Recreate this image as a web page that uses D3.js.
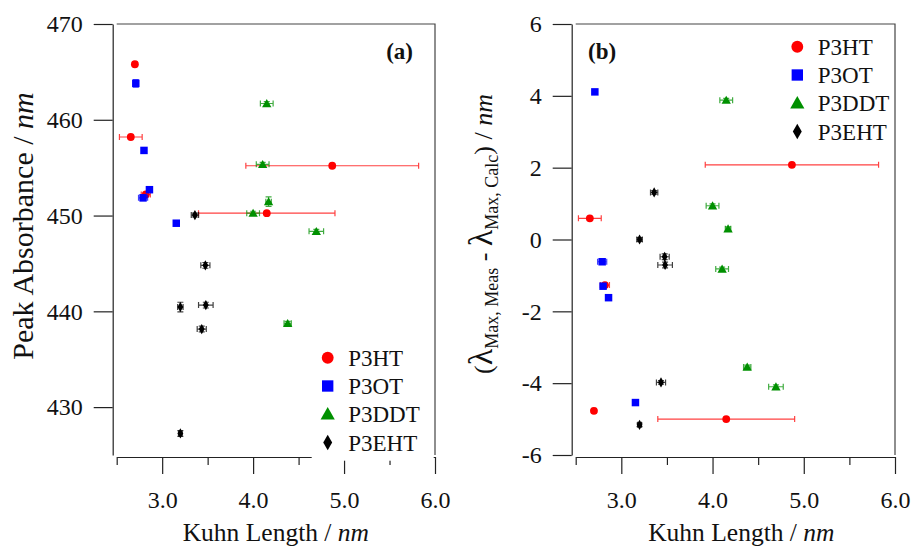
<!DOCTYPE html>
<html>
<head>
<meta charset="utf-8">
<script src="https://cdn.jsdelivr.net/npm/d3@7"></script>
<style>
  body { margin: 0; background: #fff; }
</style>
</head>
<body>
<div id="chart"></div>
<script>
// data
const polymers = ["P3HT", "P3OT", "P3DDT", "P3EHT"];

const kuhnP3HT = [2.70, 2.655, 4.87, 4.15, 2.82];
const kuhnErrP3HT = [0.02, 0.125, 0.95, 0.75, 0.05];
const peakP3HT = [465.8, 458.2, 455.2, 450.25, 452.2];
const peakErrP3HT = [0.2, 0.1, 0.1, 0.1, 0.2];
const deltaP3HT = [-4.77, 0.59, 2.08, -5.0, -1.27];
const deltaErrP3HT = [0.05, 0.05, 0.05, 0.05, 0.05];

const kuhnP3OT = [2.71, 2.80, 2.86, 2.79, 3.155];
const kuhnErrP3OT = [0.02, 0.02, 0.02, 0.05, 0.02];
const peakP3OT = [463.8, 456.8, 452.7, 451.85, 449.2];
const peakErrP3OT = [0.4, 0.1, 0.1, 0.3, 0.1];
const deltaP3OT = [4.11, -1.30, -1.62, -0.62, -4.54];
const deltaErrP3OT = [0.05, 0.05, 0.05, 0.05, 0.05];

const kuhnP3DDT = [4.15, 4.105, 4.17, 4.00, 4.695, 4.38];
const kuhnErrP3DDT = [0.07, 0.07, 0.03, 0.07, 0.08, 0.04];
const peakP3DDT = [461.7, 455.35, 451.45, 450.25, 448.35, 438.75];
const peakErrP3DDT = [0.2, 0.2, 0.5, 0.2, 0.2, 0.2];
const deltaP3DDT = [3.88, -0.82, 0.30, 0.94, -4.10, -3.55];
const deltaErrP3DDT = [0.05, 0.05, 0.05, 0.05, 0.05, 0.05];

const kuhnP3EHT = [3.36, 3.475, 3.20, 3.48, 3.435, 3.20];
const kuhnErrP3EHT = [0.04, 0.05, 0.03, 0.08, 0.05, 0.02];
const peakP3EHT = [450.05, 444.8, 440.45, 440.65, 438.15, 427.25];
const peakErrP3EHT = [0.2, 0.3, 0.5, 0.3, 0.3, 0.3];
const deltaP3EHT = [1.31, -0.48, 0.0, -0.71, -3.98, -5.16];
const deltaErrP3EHT = [0.05, 0.08, 0.05, 0.08, 0.05, 0.05];

const xTicks = [3.0, 4.0, 5.0, 6.0];
const xTickLabels = ["3.0", "4.0", "5.0", "6.0"];
const xMinorTicks = [2.5, 3.5, 4.5, 5.5];
const yTicksA = [430, 440, 450, 460, 470];
const yTickLabelsA = ["430", "440", "450", "460", "470"];
const yTicksB = [-6, -4, -2, 0, 2, 4, 6];
const yTickLabelsB = ["-6", "-4", "-2", "0", "2", "4", "6"];

const FONT = "Liberation Serif";
const colors = {P3HT: "#ff0000", P3OT: "#0000ff", P3DDT: "#009000", P3EHT: "#000000"};
const shapes = {P3HT: d3.symbolCircle, P3OT: d3.symbolSquare, P3DDT: d3.symbolTriangle, P3EHT: d3.symbolDiamond};
const sizes = {P3HT: 48, P3OT: 56, P3DDT: 38, P3EHT: 30};

function rows(kuhn, kuhnErr, peak, peakErr, delta, deltaErr) {
    return kuhn.map((k, i) => ({k: k, ke: kuhnErr[i], a: peak[i], ae: peakErr[i], b: delta[i], be: deltaErr[i]}));
}
const series = {
    P3HT: rows(kuhnP3HT, kuhnErrP3HT, peakP3HT, peakErrP3HT, deltaP3HT, deltaErrP3HT),
    P3OT: rows(kuhnP3OT, kuhnErrP3OT, peakP3OT, peakErrP3OT, deltaP3OT, deltaErrP3OT),
    P3DDT: rows(kuhnP3DDT, kuhnErrP3DDT, peakP3DDT, peakErrP3DDT, deltaP3DDT, deltaErrP3DDT),
    P3EHT: rows(kuhnP3EHT, kuhnErrP3EHT, peakP3EHT, peakErrP3EHT, deltaP3EHT, deltaErrP3EHT)
};

const svg = d3.select("#chart")
    .append("svg")
    .attr("width", 914)
    .attr("height", 548)
    .style("font-family", FONT);

function label(sel, size) {
    return sel.style("font-family", FONT).style("font-size", size + "px").attr("fill", "#111");
}

function drawPanel(p) {
    const g = svg.append("g")
        .attr("transform", `translate(${p.left},${p.top})`);

    const x = d3.scaleLinear().domain([2.5, 6.0]).range([0, p.w]);
    const y = d3.scaleLinear().domain(p.yDomain).range([p.h, 0]);

    // frame (top + right)
    g.append("path")
        .attr("d", `M0,0H${p.w}V${p.h}`)
        .attr("fill", "none")
        .attr("stroke", "#444")
        .attr("stroke-width", 1.2);

    // left axis, pulled off the frame a little
    const yAxis = g.append("g")
        .attr("transform", "translate(-4,0)")
        .call(d3.axisLeft(y)
            .tickValues(p.yTicks)
            .tickFormat((d, i) => p.yLabels[i])
            .tickSize(19)
            .tickSizeOuter(0)
            .tickPadding(11));

    // bottom axis
    const xAxis = g.append("g")
        .attr("transform", `translate(0,${p.h + 2})`)
        .call(d3.axisBottom(x)
            .tickValues(xTicks)
            .tickFormat((d, i) => xTickLabels[i])
            .tickSize(17)
            .tickSizeOuter(0)
            .tickPadding(17));

    const xMinor = g.append("g")
        .attr("transform", `translate(0,${p.h + 2})`)
        .call(d3.axisBottom(x)
            .tickValues(xMinorTicks)
            .tickFormat("")
            .tickSize(8)
            .tickSizeOuter(0));
    xMinor.select(".domain").remove();

    [yAxis, xAxis, xMinor].forEach(a => {
        a.attr("font-family", null);
        a.selectAll("path, line").attr("stroke", "#222").attr("stroke-width", 1.2);
        label(a.selectAll("text"), 24);
    });

    // points with error bars
    polymers.forEach(name => {
        const c = colors[name];
        const pts = g.append("g");
        series[name].forEach(d => {
            const cx = x(d.k);
            const cy = y(d[p.key]);
            const x0 = x(d.k - d.ke), x1 = x(d.k + d.ke);
            const y0 = y(d[p.key] - d[p.key + "e"]), y1 = y(d[p.key] + d[p.key + "e"]);
            const eb = pts.append("g")
                .attr("stroke", c)
                .attr("stroke-opacity", 0.75)
                .attr("stroke-width", 1.2)
                .attr("fill", "none");
            eb.append("path").attr("d", `M${x0},${cy}H${x1}M${x0},${cy - 3}V${cy + 3}M${x1},${cy - 3}V${cy + 3}`);
            eb.append("path").attr("d", `M${cx},${y0}V${y1}M${cx - 3},${y0}H${cx + 3}M${cx - 3},${y1}H${cx + 3}`);
            pts.append("path")
                .attr("d", d3.symbol().type(shapes[name]).size(sizes[name])())
                .attr("transform", `translate(${cx},${name === "P3DDT" ? cy + 1 : cy})`)
                .attr("fill", c);
        });
    });

    // legend
    if (p.legendBg) {
        g.append("rect")
            .attr("x", p.legendX - 16)
            .attr("y", p.legendY - 20)
            .attr("width", 122)
            .attr("height", 123)
            .attr("fill", "#fff");
    }
    polymers.forEach((name, i) => {
        const ly = p.legendY + i * 28.3;
        g.append("path")
            .attr("d", d3.symbol().type(shapes[name]).size(sizes[name] * 2.3)())
            .attr("transform", `translate(${p.legendX},${name === "P3DDT" ? ly + 1 : ly})`)
            .attr("fill", colors[name]);
        label(g.append("text"), 23)
            .attr("x", p.legendX + 20.5)
            .attr("y", ly)
            .attr("dy", "0.35em")
            .text(name);
    });

    // panel tag
    label(g.append("text"), 23)
        .attr("x", p.tagX)
        .attr("y", 35)
        .attr("text-anchor", p.tagAnchor)
        .style("font-weight", "bold")
        .text(p.tag);

    // x title
    const xt = label(g.append("text"), 25.5)
        .attr("x", p.w / 2 + p.xTitleShift)
        .attr("y", 517)
        .attr("text-anchor", "middle");
    xt.append("tspan").text("Kuhn Length / ");
    xt.append("tspan").style("font-style", "italic").text("nm");

    return g;
}

const gA = drawPanel({
    left: 116.7, top: 24, w: 318.3, h: 431,
    yDomain: [425, 470], yTicks: yTicksA, yLabels: yTickLabelsA, key: "a",
    legendX: 211, legendY: 333.7, legendBg: true,
    tag: "(a)", tagX: 296.3, tagAnchor: "end", xTitleShift: 0
});

const gB = drawPanel({
    left: 575.7, top: 24, w: 319.3, h: 431,
    yDomain: [-6, 6], yTicks: yTicksB, yLabels: yTickLabelsB, key: "b",
    legendX: 221.6, legendY: 22.7, legendBg: false,
    tag: "(b)", tagX: 12.3, tagAnchor: "start", xTitleShift: 6
});

// y titles
const ytA = label(svg.append("text"), 30)
    .attr("transform", "translate(33,226) rotate(-90)")
    .attr("text-anchor", "middle");
ytA.append("tspan").text("Peak Absorbance / ");
ytA.append("tspan").style("font-style", "italic").text("nm");

const ytB = label(svg.append("text"), 26)
    .attr("transform", "translate(492,234) rotate(-90)")
    .attr("text-anchor", "middle");
ytB.append("tspan").text("(");
ytB.append("tspan").style("font-size", "34px").text("λ");
ytB.append("tspan").attr("dy", 6).style("font-size", "18px").text("Max, Meas");
ytB.append("tspan").attr("dy", -6).text(" - ");
ytB.append("tspan").style("font-size", "34px").text("λ");
ytB.append("tspan").attr("dy", 6).style("font-size", "18px").text("Max, Calc");
ytB.append("tspan").attr("dy", -6).text(") / ");
ytB.append("tspan").style("font-style", "italic").text("nm");
</script>
</body>
</html>
